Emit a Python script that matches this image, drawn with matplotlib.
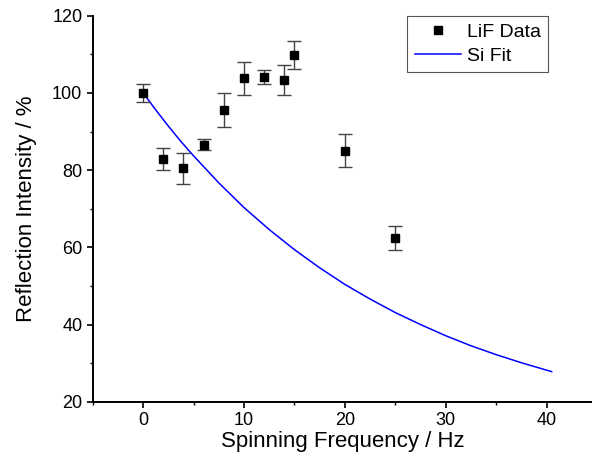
import matplotlib
matplotlib.use("Agg")
import matplotlib.pyplot as plt
from matplotlib.ticker import MultipleLocator
from matplotlib.lines import Line2D

plt.rcParams['font.family'] = ['Liberation Sans', 'DejaVu Sans']

# LiF data
freq = [0, 2, 4, 6, 8, 10, 12, 14, 15, 20, 25]
intensity = [100.0, 82.9, 80.5, 86.6, 95.6, 103.8, 104.1, 103.4, 109.8, 85.0, 62.4]
err = [2.3, 2.85, 4.0, 1.5, 4.3, 4.3, 1.8, 3.9, 3.6, 4.3, 3.1]

# Si fit curve
fit_x = [0, 1.25, 2.5, 3.75, 5, 7.5, 10, 12.5, 15, 17.5, 20, 22.5, 25, 27.5, 30, 32.5, 35, 37.5, 40.5]
fit_y = [100, 95.6, 91.4, 87.4, 83.7, 76.7, 70.3, 64.6, 59.4, 54.7, 50.4, 46.6, 43.1, 40.0, 37.1, 34.5, 32.2, 30.1, 27.8]

fig = plt.figure(figsize=(5.92, 4.76), dpi=100)
ax = fig.add_axes([0.1566, 0.156, 0.8434, 0.811])

ax.plot(fit_x, fit_y, color='#0000ff', lw=1.1, zorder=2)
ax.errorbar(freq, intensity, yerr=err, fmt='s', color='black', ms=6,
            ecolor='#444444', elinewidth=1.0, capsize=5, capthick=1.0, zorder=3)

ax.set_xlim(-5, 44.5)
ax.set_ylim(20, 120)
ax.xaxis.set_major_locator(MultipleLocator(10))
ax.xaxis.set_minor_locator(MultipleLocator(5))
ax.yaxis.set_major_locator(MultipleLocator(20))
ax.yaxis.set_minor_locator(MultipleLocator(10))

for side in ['top', 'right']:
    ax.spines[side].set_visible(False)
for side in ['left', 'bottom']:
    ax.spines[side].set_linewidth(1.4)

ax.tick_params(which='major', direction='out', length=4.5, width=1.2, labelsize=13, pad=3)
ax.tick_params(which='minor', direction='out', length=2.5, width=1.0)

ax.set_xlabel('Spinning Frequency / Hz', fontsize=16, labelpad=1)
ax.set_ylabel('Reflection Intensity / %', fontsize=16, labelpad=11)

handles = [Line2D([], [], ls='none', marker='s', color='black', ms=6),
           Line2D([], [], color='#0000ff', lw=1.1)]
leg = ax.legend(handles, ['LiF Data', 'Si Fit'], loc='upper right', bbox_to_anchor=(0.9125, 1.0),
                borderaxespad=0, fontsize=14, fancybox=False, framealpha=1,
                edgecolor='#555555', handlelength=2.37, handletextpad=0.3,
                borderpad=0.4, labelspacing=0.3)
leg.get_frame().set_linewidth(0.8)

fig.savefig('out.png', dpi=100)
